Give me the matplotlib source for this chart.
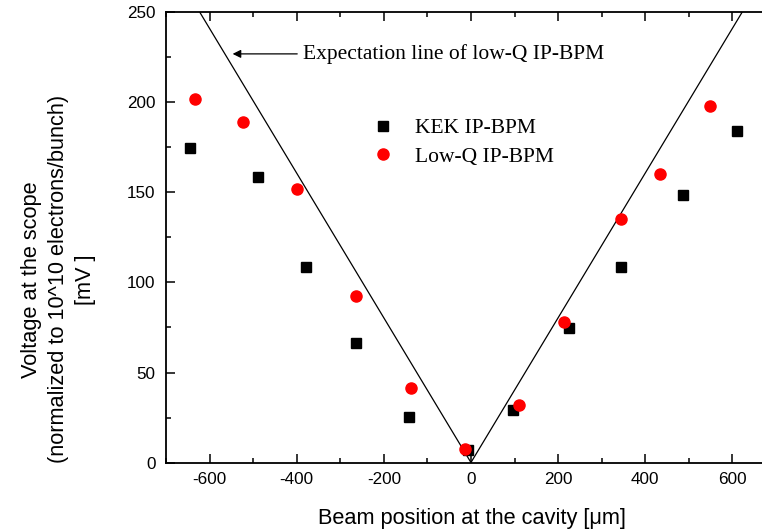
import matplotlib.pyplot as plt
import numpy as np

plt.rcParams['axes.unicode_minus'] = False

# measured data (beam position [um], voltage [mV])
kek_x = [-645, -489, -379, -263, -143, -7, 96, 224, 344, 486, 610]
kek_y = [174.6, 158.5, 108.5, 66.3, 25.2, 6.8, 29.0, 74.6, 108.5, 148.5, 184.0]

lowq_x = [-634, -524, -400, -263, -137, -14, 110, 214, 344, 434, 548]
lowq_y = [201.8, 189.0, 151.8, 92.5, 41.4, 7.4, 32.0, 78.0, 135.0, 160.0, 198.0]

# expectation line (V shape)
expect_x = [-622, 0, 622]
expect_y = [250, 0, 250]

serif = 'Liberation Serif'
sans = 'Liberation Sans'

fig = plt.figure(figsize=(7.62, 5.29), dpi=100)
ax = fig.add_axes([0.2178, 0.1257, 0.8005, 0.8507])

ax.plot(expect_x, expect_y, color='k', lw=0.9)
ax.plot(kek_x, kek_y, 's', color='k', ms=7, ls='none', label='KEK IP-BPM')
ax.plot(lowq_x, lowq_y, 'o', color='red', ms=8, ls='none', label='Low-Q IP-BPM')

ax.set_xlim(-700, 700)
ax.set_ylim(0, 250)
ax.set_xticks(np.arange(-600, 601, 200))
ax.set_xticks(np.arange(-700, 701, 100), minor=True)
ax.set_yticks(np.arange(0, 251, 50))
ax.set_yticks(np.arange(25, 250, 50), minor=True)

ax.spines['right'].set_visible(False)
for s in ['left', 'top', 'bottom']:
    ax.spines[s].set_linewidth(1.3)

ax.tick_params(which='both', direction='in', top=True, right=False, width=1.1)
ax.tick_params(which='major', length=6.7, labelsize=12.3)
ax.tick_params(which='minor', length=3.8)
ax.tick_params(axis='x', which='major', pad=6.5)
ax.tick_params(axis='y', which='major', pad=7.5)
for lab in ax.get_xticklabels() + ax.get_yticklabels():
    lab.set_family(sans)

ax.set_xlabel('Beam position at the cavity [\u03bcm]', family=sans, fontsize=15.7)
ax.xaxis.set_label_coords(0.5016, -0.125)
ax.xaxis.label.set_va('center')
ax.set_ylabel('Voltage at the scope\n(normalized to 10^10 electrons/bunch)\n[mV ]',
              family=sans, fontsize=15.7, linespacing=1.38)
ax.yaxis.set_label_coords(-0.1766, 0.407)
ax.yaxis.label.set_va('center')

ax.annotate('Expectation line of low-Q IP-BPM', xy=(-547, 227), xytext=(-386, 227),
            va='center', ha='left', family=serif, fontsize=15.5,
            arrowprops=dict(arrowstyle='-|>', color='k', lw=0.9, mutation_scale=12,
                            shrinkA=2, shrinkB=0))

leg = ax.legend(loc='center left', bbox_to_anchor=(0.306, 0.711), frameon=False,
                prop={'family': serif, 'size': 15.5}, handlelength=1.0,
                handletextpad=1.0, labelspacing=0.41, numpoints=1)

fig.savefig('out.png', dpi=100)
